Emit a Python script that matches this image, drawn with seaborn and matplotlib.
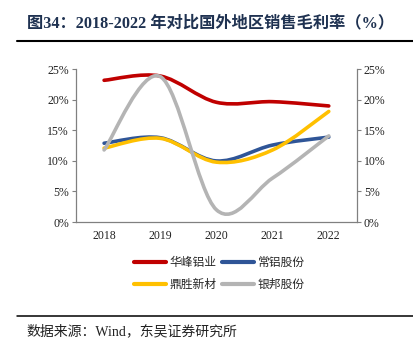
import numpy as np
import pandas as pd
import matplotlib
matplotlib.use("Agg")
import matplotlib.pyplot as plt
import seaborn as sns
from matplotlib.path import Path
from matplotlib.patches import PathPatch
from matplotlib.lines import Line2D
from matplotlib.ticker import PercentFormatter

years = ["2018", "2019", "2020", "2021", "2022"]
huafeng = [23.2, 23.9, 19.6, 19.7, 19.0]
changlv = [12.9, 13.8, 10.0, 12.6, 13.9]
dingsheng = [12.1, 13.7, 9.8, 11.8, 18.1]
yinbang = [11.8, 23.8, 2.0, 7.2, 14.1]
names = ["华峰铝业", "常铝股份", "鼎胜新材", "银邦股份"]
colors = ["#C00000", "#2F5597", "#FFC000", "#B4B4B4"]

sns.set_style("white")
plt.rcParams["font.family"] = ["Liberation Serif", "Noto Sans CJK SC", "DejaVu Sans"]

series = [huafeng, changlv, dingsheng, yinbang]
x = np.arange(len(years))
df = pd.DataFrame({
    "x": np.tile(x, len(names)),
    "value": np.concatenate(series),
    "name": np.repeat(names, len(years)),
})


def smooth_path(xs, ys):
    # excel style smoothed line: cubic bezier through every point
    p = np.column_stack([xs, ys]).astype(float)
    ext = np.vstack([p[0], p, p[-1]])
    verts = [p[0]]
    codes = [Path.MOVETO]
    for i in range(len(p) - 1):
        c1 = p[i] + (ext[i + 2] - ext[i]) / 6
        c2 = p[i + 1] - (ext[i + 3] - ext[i + 1]) / 6
        verts += [c1, c2, p[i + 1]]
        codes += [Path.CURVE4] * 3
    return Path(verts, codes)


fig = plt.figure(figsize=(4.14, 3.53), dpi=100)
ax = fig.add_axes([0.1836, 0.371, 0.862 - 0.1836, 0.8037 - 0.371])

sns.lineplot(data=df, x="x", y="value", hue="name", palette=colors,
             hue_order=names, legend=False, ax=ax)
for line in ax.lines:
    line.set_visible(False)

for vals, c in zip(series, colors):
    ax.add_patch(PathPatch(smooth_path(x, vals), facecolor="none", edgecolor=c,
                           lw=2.6, capstyle="round", joinstyle="round"))

spine_c = "#808080"
tick_fs = 8.5
ax.set_xlim(-0.5, len(years) - 0.5)
ax.set_ylim(0, 25)
ax.set_yticks(np.arange(0, 26, 5))
ax.yaxis.set_major_formatter(PercentFormatter(decimals=0))
ax.set_xticks(x)
ax.set_xticklabels(years)
ax.set_xticks(np.arange(-0.5, len(years), 1), minor=True)
ax.tick_params(axis="x", which="major", length=0, pad=6, labelsize=tick_fs, colors="#222222")
ax.tick_params(axis="x", which="minor", length=3.5, direction="out", color=spine_c, width=0.8)
ax.tick_params(axis="y", length=3, direction="out", color=spine_c, width=0.8,
               labelsize=tick_fs, labelcolor="#222222", pad=2)
ax.set_xlabel("")
ax.set_ylabel("")
for s in ["top", "right"]:
    ax.spines[s].set_visible(False)
for s in ["left", "bottom"]:
    ax.spines[s].set_color(spine_c)
    ax.spines[s].set_linewidth(0.9)

ax2 = ax.twinx()
ax2.set_ylim(0, 25)
ax2.set_yticks(np.arange(0, 26, 5))
ax2.yaxis.set_major_formatter(PercentFormatter(decimals=0))
ax2.tick_params(axis="y", length=3, direction="out", color=spine_c, width=0.8,
                labelsize=tick_fs, labelcolor="#222222", pad=2)
for s in ["top", "left", "bottom"]:
    ax2.spines[s].set_visible(False)
ax2.spines["right"].set_color(spine_c)
ax2.spines["right"].set_linewidth(0.9)

# legend filled row by row
order = [0, 2, 1, 3]
handles = [Line2D([0], [0], color=colors[i], lw=3, solid_capstyle="round") for i in order]
labels = [names[i] for i in order]
fig.legend(handles, labels, ncol=2, loc="center", bbox_to_anchor=(0.53, 0.225),
           frameon=False, handlelength=2.7, handletextpad=0.3, columnspacing=0.5,
           labelspacing=0.75, prop={"family": ["Noto Sans CJK SC"], "size": 8.5})

fig.text(0.065, 0.935, "图34：2018-2022 年对比国外地区销售毛利率（%）",
         fontsize=11.7, fontweight="bold", color="#1F3251", va="center", ha="left")
fig.add_artist(Line2D([0.041, 1.0], [0.8847, 0.8847], color="black", lw=1.5))
fig.add_artist(Line2D([0.041, 1.0], [0.1057, 0.1057], color="black", lw=1.1))
fig.text(0.065, 0.06, "数据来源：Wind，东吴证券研究所", fontsize=10, color="#222222",
         va="center", ha="left")

fig.savefig("out.png", dpi=100)
